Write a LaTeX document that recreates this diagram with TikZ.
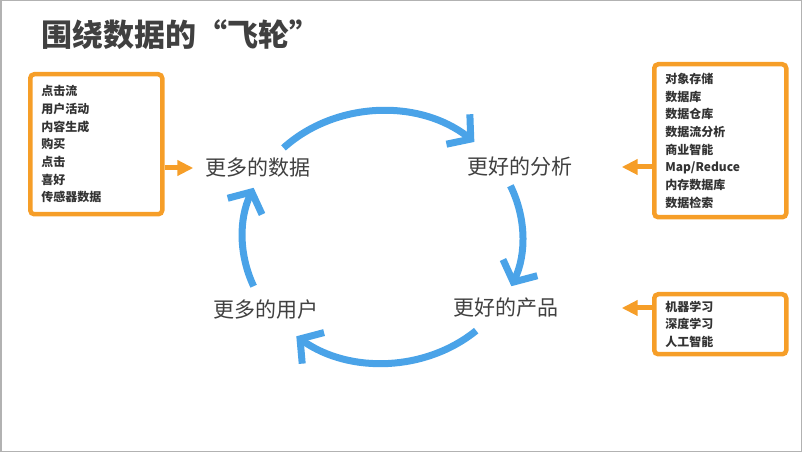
\documentclass[tikz,border=0pt]{standalone}
\usepackage{fontspec}
\setmainfont{Noto Sans CJK SC}
\usetikzlibrary{arrows.meta}
\definecolor{flyblue}{RGB}{74,163,232}
\definecolor{flyorange}{RGB}{246,158,40}
\definecolor{textgray}{RGB}{64,64,64}

\begin{document}
\begin{tikzpicture}[x=1pt,y=1pt,
    stage/.style={text=textgray, font=\fontsize{21}{25}\selectfont, inner sep=3pt},
    listbox/.style={draw=flyorange, line width=4.5pt, rounded corners=4pt, text=black!80,
      font=\bfseries\fontsize{12}{17.7}\selectfont, align=left, text width=110pt,
      inner xsep=11pt, anchor=north west},
    feed/.style={flyorange, line width=5pt, -{Triangle[length=16pt,width=15pt]}},
    flow/.style={flyblue, line width=7pt, -{Straight Barb[length=16pt,width=38pt]}}
  ]
  \useasboundingbox (0,0) rectangle (802,452);
  \draw[gray!60, line width=1.5pt] (0.75,0.75) rectangle (801.25,451.25);

  \node[anchor=west, text=textgray, font=\bfseries\fontsize{31}{36}\selectfont] (title)
    at (38,417) {围绕数据的“飞轮”};

  \node[stage] (data) at (258,284) {更多的数据};
  \node[stage] (analysis) at (520,285) {更好的分析};
  \node[stage] (product) at (506,144) {更好的产品};
  \node[stage] (users) at (266,142) {更多的用户};

  \node[listbox, minimum height=140pt] (sources) at (28,380)
    {点击流\\用户活动\\内容生成\\购买\\点击\\喜好\\传感器数据};
  \node[listbox, minimum height=153pt] (tools) at (652,390)
    {对象存储\\数据库\\数据仓库\\数据流分析\\商业智能\\Map/Reduce\\内存数据库\\数据检索};
  \node[listbox, minimum height=60pt] (ml) at (652,160)
    {机器学习\\深度学习\\人工智能};

  % Draw the feeds into the wheel
  \draw[feed, shorten >=9pt] (sources.east |- data) -- (data);
  \draw[feed, shorten >=46pt] (tools.west |- analysis) -- (analysis.east);
  \draw[feed, shorten >=60pt] (ml.west |- product) -- (product.east);

  % Draw the wheel
  \coordinate (hub) at (382.5,215);
  \draw[flow] ([shift={(135:140pt and 126pt)}]hub)
    arc[start angle=135, end angle=49, x radius=140pt, y radius=126pt];
  \draw[flow] ([shift={(24:140pt and 126pt)}]hub)
    arc[start angle=24, end angle=-23, x radius=140pt, y radius=126pt];
  \draw[flow] ([shift={(-48:140pt and 126pt)}]hub)
    arc[start angle=-48, end angle=-128, x radius=140pt, y radius=126pt];
  \draw[flow] ([shift={(203:140pt and 126pt)}]hub)
    arc[start angle=203, end angle=157, x radius=140pt, y radius=126pt];
\end{tikzpicture}
\end{document}
